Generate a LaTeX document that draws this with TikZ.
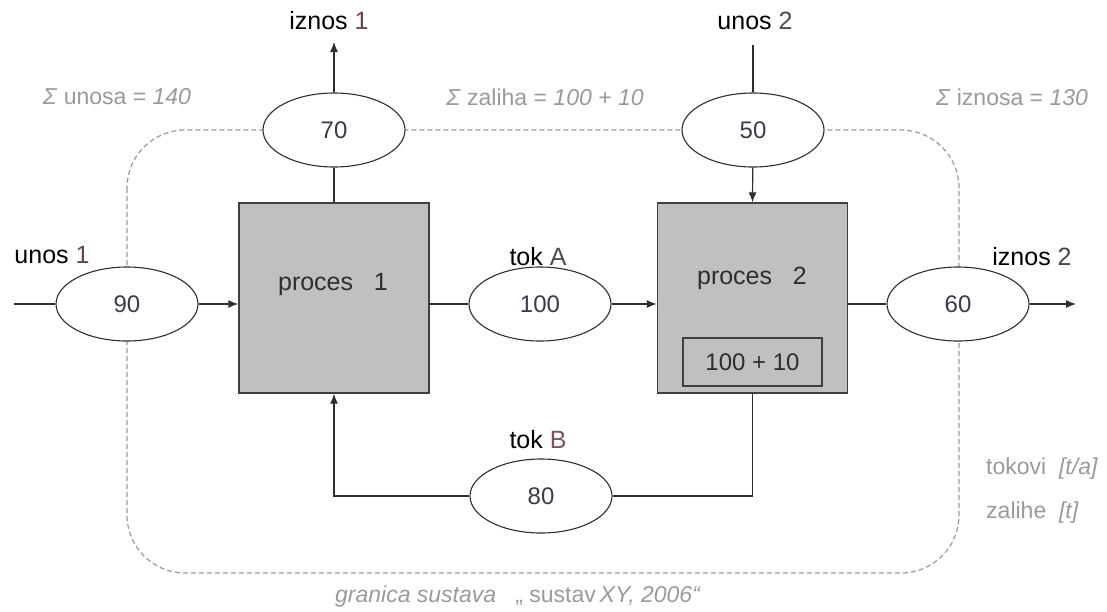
\documentclass[tikz,border=0pt]{standalone}
\usepackage{fontspec}
\setmainfont{Liberation Sans}
\usetikzlibrary{shapes.geometric,arrows.meta}
\definecolor{linec}{HTML}{2E2E2E}
\definecolor{boxfill}{HTML}{C0C0C0}
\definecolor{boxline}{HTML}{404040}
\definecolor{bndc}{HTML}{9A9A9A}
\definecolor{graytxt}{HTML}{9A9A9A}
\definecolor{numc}{HTML}{3A3A4A}
\definecolor{redd}{HTML}{6B4444}
\definecolor{grnd}{HTML}{3E4A3E}
\tikzset{
  flowell/.style={ellipse,draw=linec,line width=1.1pt,fill=white,minimum width=142pt,minimum height=74pt,inner sep=0pt,text=numc,font=\fontsize{24}{28}\selectfont},
  procbox/.style={rectangle,draw=boxline,line width=1.4pt,fill=boxfill,minimum width=190pt,minimum height=190pt,inner sep=0pt},
  storebox/.style={rectangle,draw=boxline,line width=1.4pt,fill=boxfill,minimum width=139pt,minimum height=48pt,inner sep=0pt,text=linec,font=\fontsize{24}{28}\selectfont},
  proctxt/.style={text=linec,font=\fontsize{25}{29}\selectfont,inner sep=0pt},
  lbl/.style={text=black,font=\fontsize{25}{29}\selectfont,inner sep=0pt},
  glbl/.style={text=graytxt,font=\fontsize{23}{27}\selectfont,inner sep=0pt},
  conn/.style={draw=linec,line width=1.2pt},
  arr/.style={conn,-{Latex[length=10pt,width=8pt]}},
  boundary/.style={draw=bndc,line width=1.2pt,dash pattern=on 5pt off 3pt,rounded corners=58pt}
}
\begin{document}
\begin{tikzpicture}[x=1pt,y=-1pt]
\useasboundingbox (0,0) rectangle (1107,611);
% system boundary
\path[boundary] (127,130) rectangle (959,573);
% processes
\node[procbox] (p1) at (334,298) {};
\node[procbox] (p2) at (752.5,298) {};
\node[storebox] (st) at (752.5,362) {100 + 10};
\node[proctxt] (p1t) at (333,284) {proces\ \ \ 1};
\node[proctxt] (p2t) at (752,278) {proces\ \ \ 2};
% flow ellipses
\node[flowell] (e90) at (127,304) {90};
\node[flowell] (e70) at (334,130) {70};
\node[flowell] (e100) at (540,304) {100};
\node[flowell] (e50) at (753,130) {50};
\node[flowell] (e60) at (958,304) {60};
\node[flowell] (e80) at (541,496) {80};
% free ends
\coordinate (in1) at (14,304);
\coordinate (out1) at (334,42);
\coordinate (in2) at (753,45);
\coordinate (out2) at (1076,304);
% connectors
\draw[conn] (in1) -- (e90);
\draw[arr] (e90) -- (e90 -| p1.west);
\draw[conn] (p1.north) -- (e70);
\draw[arr] (e70) -- (out1);
\draw[conn] (e100 -| p1.east) -- (e100);
\draw[arr] (e100) -- (e100 -| p2.west);
\draw[conn] (in2) -- (e50);
\draw[arr] (e50) -- (p2.north);
\draw[conn] (e60 -| p2.east) -- (e60);
\draw[arr] (e60) -- (out2);
\draw[conn] (p2.south) |- (e80.east);
\draw[arr] (e80.west) -| (p1.south);
% labels
\node[lbl] (l1) at (52,255) {unos \textcolor{redd}{1}};
\node[lbl] (l2) at (329,21) {iznos \textcolor{redd}{1}};
\node[lbl] (l3) at (538,257) {tok \textcolor{black!70}{A}};
\node[lbl] (l4) at (755,21) {unos \textcolor{black!70}{2}};
\node[lbl] (l5) at (1032,257) {iznos \textcolor{grnd}{2}};
\node[lbl] (l6) at (538,440) {tok \textcolor{redd!90}{B}};
% gray annotations
\node[glbl] (s1) at (117,97) {\textit{Σ} unosa = \textit{140}};
\node[glbl] (s2) at (545,97) {\textit{Σ} zaliha = \textit{100 + 10}};
\node[glbl] (s3) at (1012,97) {\textit{Σ} iznosa = \textit{130}};
\node[glbl,anchor=west] (u1) at (986,469) {tokovi\ \ \textit{[t/a]}};
\node[glbl,anchor=west] (u2) at (986,513) {zalihe\ \ \textit{[t]}};
\node[glbl] (gr) at (518,597) {\textit{granica sustava}\ \ \ „ sustav\,\textit{XY, 2006“}};
\end{tikzpicture}
\end{document}
